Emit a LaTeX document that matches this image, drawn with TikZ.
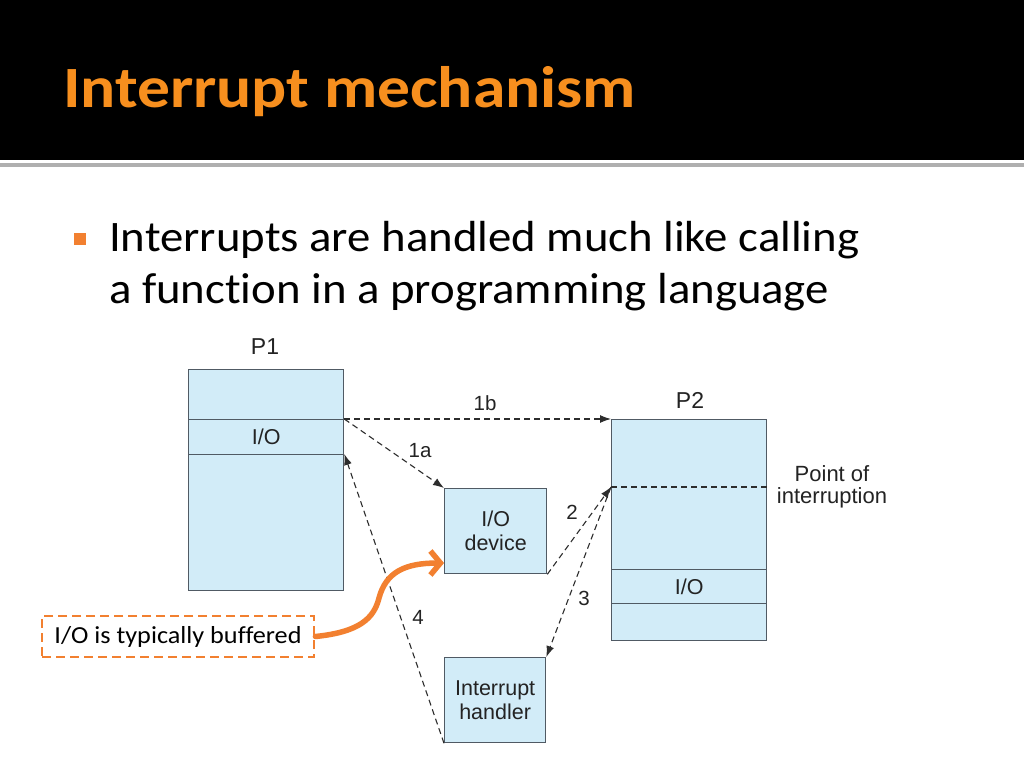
\documentclass[tikz,border=0pt]{standalone}
\usepackage{fontspec}
\setmainfont[Ligatures=NoCommon]{Carlito}
\newfontfamily\titlefont[FakeStretch=1.12,Ligatures=NoCommon]{Carlito}
\newfontfamily\bodyfont[FakeStretch=1.075,Ligatures=NoCommon]{Carlito}
\newfontfamily\notefont[FakeStretch=1.07,Ligatures=NoCommon]{Carlito}
\newfontfamily\diag{Liberation Sans}
\usetikzlibrary{arrows.meta}
\definecolor{titleor}{RGB}{247,143,30}
\definecolor{accent}{RGB}{242,128,48}
\definecolor{boxfill}{RGB}{210,236,248}
\definecolor{boxline}{RGB}{80,90,100}
\definecolor{linkc}{RGB}{45,45,45}
\definecolor{txtc}{RGB}{35,35,35}
\definecolor{rule}{RGB}{175,175,175}
\begin{document}
\begin{tikzpicture}[x=1pt,y=-1pt,
  box/.style={draw=boxline, fill=boxfill, line width=1.3pt, inner sep=0pt, anchor=north west, text=txtc, font=\diag\fontsize{21.5}{24}\selectfont, align=center},
  dlink/.style={draw=linkc, line width=1.1pt, dash pattern=on 6pt off 4pt, -{Latex[length=11pt,width=8pt]}},
  lbl/.style={font=\diag\fontsize{20.5}{22}\selectfont, inner sep=0pt, text=txtc},
  plab/.style={font=\diag\fontsize{23}{26}\selectfont, inner sep=0pt, text=txtc},
  bodytxt/.style={font=\bodyfont\fontsize{43.5}{52}\selectfont, inner sep=0pt, anchor=base west, text=black}]
\useasboundingbox (0,0) rectangle (1024,768);
\fill[white] (0,0) rectangle (1024,768);
% title bar
\fill[black] (0,0) rectangle (1024,160);
\fill[rule] (0,163) rectangle (1024,167);
\node[anchor=base west, inner sep=0pt, text=titleor, font=\titlefont\bfseries\fontsize{58.5}{64}\selectfont] (title) at (63,107) {Interrupt mechanism};
% bullet
\node[fill=accent, minimum width=12pt, minimum height=12pt, inner sep=0pt, anchor=north west] (bullet) at (74,233) {};
\node[bodytxt] (line1) at (109,251) {Interrupts are handled much like calling};
\node[bodytxt] (line2) at (109,303) {a function in a programming language};
% P1
\node[plab] (p1lab) at (265,347) {P1};
\node[box, minimum width=155pt, minimum height=50pt] (p1top) at (188,369) {};
\node[box, minimum width=155pt, minimum height=35pt] (p1io) at (188,419) {I/O};
\node[box, minimum width=155pt, minimum height=136pt] (p1bot) at (188,454) {};
% P2
\node[plab] (p2lab) at (690,400) {P2};
\node[box, minimum width=155pt, minimum height=150pt] (p2top) at (611,419) {};
\node[box, minimum width=155pt, minimum height=34pt] (p2io) at (611,569) {I/O};
\node[box, minimum width=155pt, minimum height=37pt] (p2bot) at (611,603) {};
\coordinate (poi) at (611,487);
\draw[draw=linkc, line width=1.1pt, dash pattern=on 6pt off 4pt] (poi) -- (p2top.east |- poi);
\node[lbl, align=center, font=\diag\fontsize{22}{22}\selectfont] (poilab) at (832,487) {Point of\\interruption};
% devices
\node[box, minimum width=102pt, minimum height=85pt] (iodev) at (444,488) {I/O\\device};
\node[box, minimum width=101pt, minimum height=85pt] (handler) at (444,657) {Interrupt\\handler};
% links
\draw[dlink] (p1io.north east) -- (p2top.north west);
\draw[dlink] (p1io.north east) -- (iodev.north west);
\draw[dlink] (iodev.south east) -- (poi);
\draw[dlink] (poi) -- (handler.north east);
\draw[dlink] (handler.south west) -- (p1bot.north east);
\node[lbl] (l1b) at (485,403) {1b};
\node[lbl] (l1a) at (420,451) {1a};
\node[lbl] (l2) at (572,512) {2};
\node[lbl] (l3) at (584,598) {3};
\node[lbl] (l4) at (418,617) {4};
% callout
\node[draw=accent, line width=2.8pt, dash pattern=on 9pt off 5pt, minimum width=272pt, minimum height=41pt, inner sep=0pt, font=\notefont\fontsize{24.5}{28}\selectfont, text=black] (note) at (178,636.5) {I/O is typically buffered};
\draw[accent, line width=5.5pt, line cap=round, line join=round, -{Straight Barb[length=10pt,width=24pt]}] (note.east) .. controls (360,632) and (374,618) .. (379,598) .. controls (386,572) and (405,563) .. (iodev.west |- 0,563);
\end{tikzpicture}
\end{document}
